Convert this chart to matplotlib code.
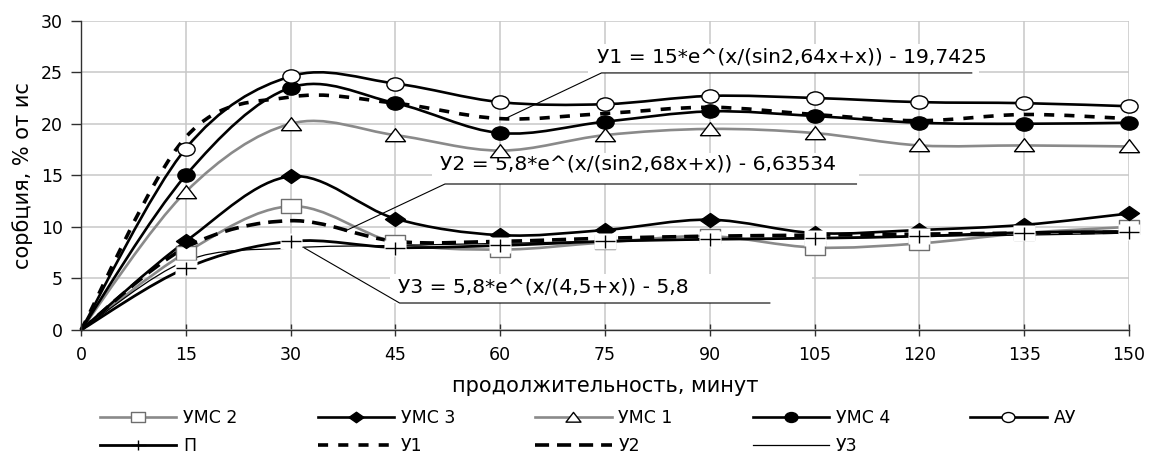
import numpy as np
import matplotlib
matplotlib.use("Agg")
import matplotlib.pyplot as plt
from matplotlib.path import Path
from matplotlib.patches import PathPatch, Rectangle
from matplotlib.lines import Line2D
from matplotlib.transforms import Affine2D

plt.rcParams["font.family"] = ["DejaVu Sans"]

# data
minutes = [0, 15, 30, 45, 60, 75, 90, 105, 120, 135, 150]
umc2 = [0, 7.5, 12.0, 8.5, 7.8, 8.5, 9.1, 8.0, 8.4, 9.4, 10.0]
umc3 = [0, 8.6, 14.9, 10.8, 9.2, 9.7, 10.7, 9.4, 9.7, 10.2, 11.3]
umc1 = [0, 13.4, 20.0, 18.9, 17.4, 18.9, 19.5, 19.1, 17.9, 17.9, 17.8]
umc4 = [0, 15.0, 23.5, 22.0, 19.1, 20.2, 21.2, 20.75, 20.1, 20.0, 20.1]
au = [0, 17.6, 24.6, 23.9, 22.1, 21.9, 22.7, 22.5, 22.1, 22.0, 21.7]
p_vals = [0, 6.0, 8.6, 8.0, 8.2, 8.6, 8.8, 8.9, 9.1, 9.45, 9.55]
y1_fit = [0, 18.7, 22.6, 22.0, 20.5, 21.0, 21.6, 20.9, 20.3, 20.9, 20.5]
y2_fit = [0, 8.0, 10.6, 8.6, 8.6, 8.9, 9.1, 9.2, 9.3, 9.4, 9.5]
y3_fit = [0, 6.7, 7.95, 8.2, 8.4, 8.6, 8.8, 8.9, 9.1, 9.2, 9.4]

x_ticks = list(range(0, 151, 15))
y_ticks = list(range(0, 31, 5))

eq1 = "У1 = 15*e^(x/(sin2,64x+x)) - 19,7425"
eq2 = "У2 = 5,8*e^(x/(sin2,68x+x)) - 6,63534"
eq3 = "У3 = 5,8*e^(x/(4,5+x)) - 5,8"

GRAY = "#8a8a8a"


def smooth_path(xs, ys):
    # excel-like smoothed line: cubic bezier through the points
    pts = np.column_stack([xs, ys]).astype(float)
    verts = [pts[0]]
    codes = [Path.MOVETO]
    n = len(pts)
    for i in range(n - 1):
        p0 = pts[i - 1] if i > 0 else pts[i]
        p1 = pts[i]
        p2 = pts[i + 1]
        p3 = pts[i + 2] if i + 2 < n else pts[i + 1]
        verts += [p1 + (p2 - p0) / 6.0, p2 - (p3 - p1) / 6.0, p2]
        codes += [Path.CURVE4] * 3
    return Path(verts, codes)


def stretched(path, sx, sy=1.0):
    return Affine2D().scale(sx, sy).transform_path(path)


m_circle = stretched(Path.unit_circle(), 1.3)
m_square = Path([(-1.45, -1), (1.45, -1), (1.45, 1), (-1.45, 1), (-1.45, -1)],
                [Path.MOVETO, Path.LINETO, Path.LINETO, Path.LINETO, Path.CLOSEPOLY])
m_tri = Path([(0, 0.68), (-1, -0.62), (1, -0.62), (0, 0.68)],
             [Path.MOVETO, Path.LINETO, Path.LINETO, Path.CLOSEPOLY])
m_diam = Path([(0, 0.7), (1, 0), (0, -0.7), (-1, 0), (0, 0.7)],
              [Path.MOVETO, Path.LINETO, Path.LINETO, Path.LINETO, Path.CLOSEPOLY])
m_plus = Path([(-1, 0), (1, 0), (0, -0.65), (0, 0.65)],
              [Path.MOVETO, Path.LINETO, Path.MOVETO, Path.LINETO])
m_box = Path([(-1, -0.7), (1, -0.7), (1, 0.7), (-1, 0.7), (-1, -0.7)],
             [Path.MOVETO, Path.LINETO, Path.LINETO, Path.LINETO, Path.CLOSEPOLY])

series = [
    # label, values, line color, lw, dashes, marker, ms, mfc, mec
    ("УМС 2", umc2, GRAY, 1.9, None, m_square, 13.7, "white", "#6e6e6e"),
    ("УМС 3", umc3, "black", 1.9, None, m_diam, 14.4, "black", "black"),
    ("УМС 1", umc1, GRAY, 1.9, None, m_tri, 14.4, "white", "black"),
    ("УМС 4", umc4, "black", 1.9, None, m_circle, 12.4, "black", "black"),
    ("АУ", au, "black", 1.9, None, m_circle, 12.4, "white", "black"),
    ("П", p_vals, "black", 2.0, None, m_plus, 14.4, "none", "black"),
    ("У1", y1_fit, "black", 2.6, (0, (2.8, 2.8)), None, 0, None, None),
    ("У2", y2_fit, "black", 2.6, (0, (3.9, 2.2)), None, 0, None, None),
    ("У3", y3_fit, "black", 0.9, None, None, 0, None, None),
]

fig = plt.figure(figsize=(11.52, 4.59), dpi=100)
ax = fig.add_axes([0.0703, 0.281, 0.9097, 0.674])
ax.set_xlim(0, 150)
ax.set_ylim(0, 30)
ax.set_xticks(x_ticks)
ax.set_yticks(y_ticks)
ax.grid(True, color="#c8c8c8", linewidth=1.1, zorder=0)
ax.set_axisbelow(True)
for s in ("top", "right"):
    ax.spines[s].set_visible(False)
for s in ("left", "bottom"):
    ax.spines[s].set_color("#303030")
    ax.spines[s].set_linewidth(1.0)
ax.tick_params(axis="x", direction="inout", length=9, width=1, color="#303030",
               labelsize=12.5, pad=7)
ax.tick_params(axis="y", direction="out", length=7, width=1, color="#303030",
               labelsize=12.5, pad=6)

# label boxes (white) and leader lines
ax.add_patch(Rectangle((72.5, 24.9), 56, 2.8, facecolor="white", edgecolor="none", zorder=1))
ax.add_patch(Rectangle((50.3, 14.16), 61, 3.0, facecolor="white", edgecolor="none", zorder=1))
ax.add_patch(Rectangle((44.2, 2.62), 60.5, 2.85, facecolor="white", edgecolor="none", zorder=1))
ax.text(73.9, 26.45, eq1, fontsize=14.6, va="center", ha="left", zorder=1.1)
ax.text(51.4, 16.1, eq2, fontsize=14.6, va="center", ha="left", zorder=1.1)
ax.text(45.4, 4.15, eq3, fontsize=14.6, va="center", ha="left", zorder=1.1)
ax.plot([60.9, 74.5, 127.5], [20.56, 24.93, 24.93], color="black", lw=0.8, zorder=4)
ax.plot([37.8, 52.1, 111.0], [9.6, 14.16, 14.16], color="black", lw=0.8, zorder=4)
ax.plot([32.0, 45.6, 98.6], [7.95, 2.62, 2.62], color="black", lw=0.8, zorder=4)

handles = []
for i, (lab, vals, col, lw, dashes, mk, ms, mfc, mec) in enumerate(series):
    ls = dashes if dashes else "-"
    patch = PathPatch(smooth_path(minutes, vals), facecolor="none", edgecolor=col,
                      linewidth=lw, linestyle=ls, capstyle="butt",
                      zorder=2 + i * 0.01, clip_on=False)
    ax.add_patch(patch)
    if mk is not None:
        # no visible markers at the origin in the reference
        if lab == "П":
            ax.plot(minutes[1:], vals[1:], linestyle="none", marker=m_box, markersize=16,
                    markerfacecolor="white", markeredgecolor="none",
                    zorder=3 + i * 0.01, clip_on=False)
        ax.plot(minutes[1:], vals[1:], linestyle="none", marker=mk, markersize=ms,
                markerfacecolor=mfc, markeredgecolor=mec, markeredgewidth=1.0,
                zorder=3.005 + i * 0.01, clip_on=False)
    handles.append(Line2D([], [], color=col, linewidth=lw, linestyle=ls,
                          marker=mk if mk is not None else None,
                          markersize=ms * 0.75, markerfacecolor=mfc,
                          markeredgecolor=mec, markeredgewidth=1.0, label=lab))

ax.set_xlabel("продолжительность, минут", fontsize=15, labelpad=9)
ax.set_ylabel("сорбция, % от ис", fontsize=15, labelpad=6)

# legend laid out row by row (matplotlib fills columns first)
order = [0, 5, 1, 6, 2, 7, 3, 8, 4]
leg = fig.legend([handles[k] for k in order], [series[k][0] for k in order],
                 ncol=5, loc="upper left", bbox_to_anchor=(0.0868, 0.108),
                 frameon=False, fontsize=12.5, handlelength=4.4, handletextpad=0.4,
                 columnspacing=4.6, labelspacing=0.55, borderpad=0, borderaxespad=0)

fig.savefig("out.png", dpi=100)
